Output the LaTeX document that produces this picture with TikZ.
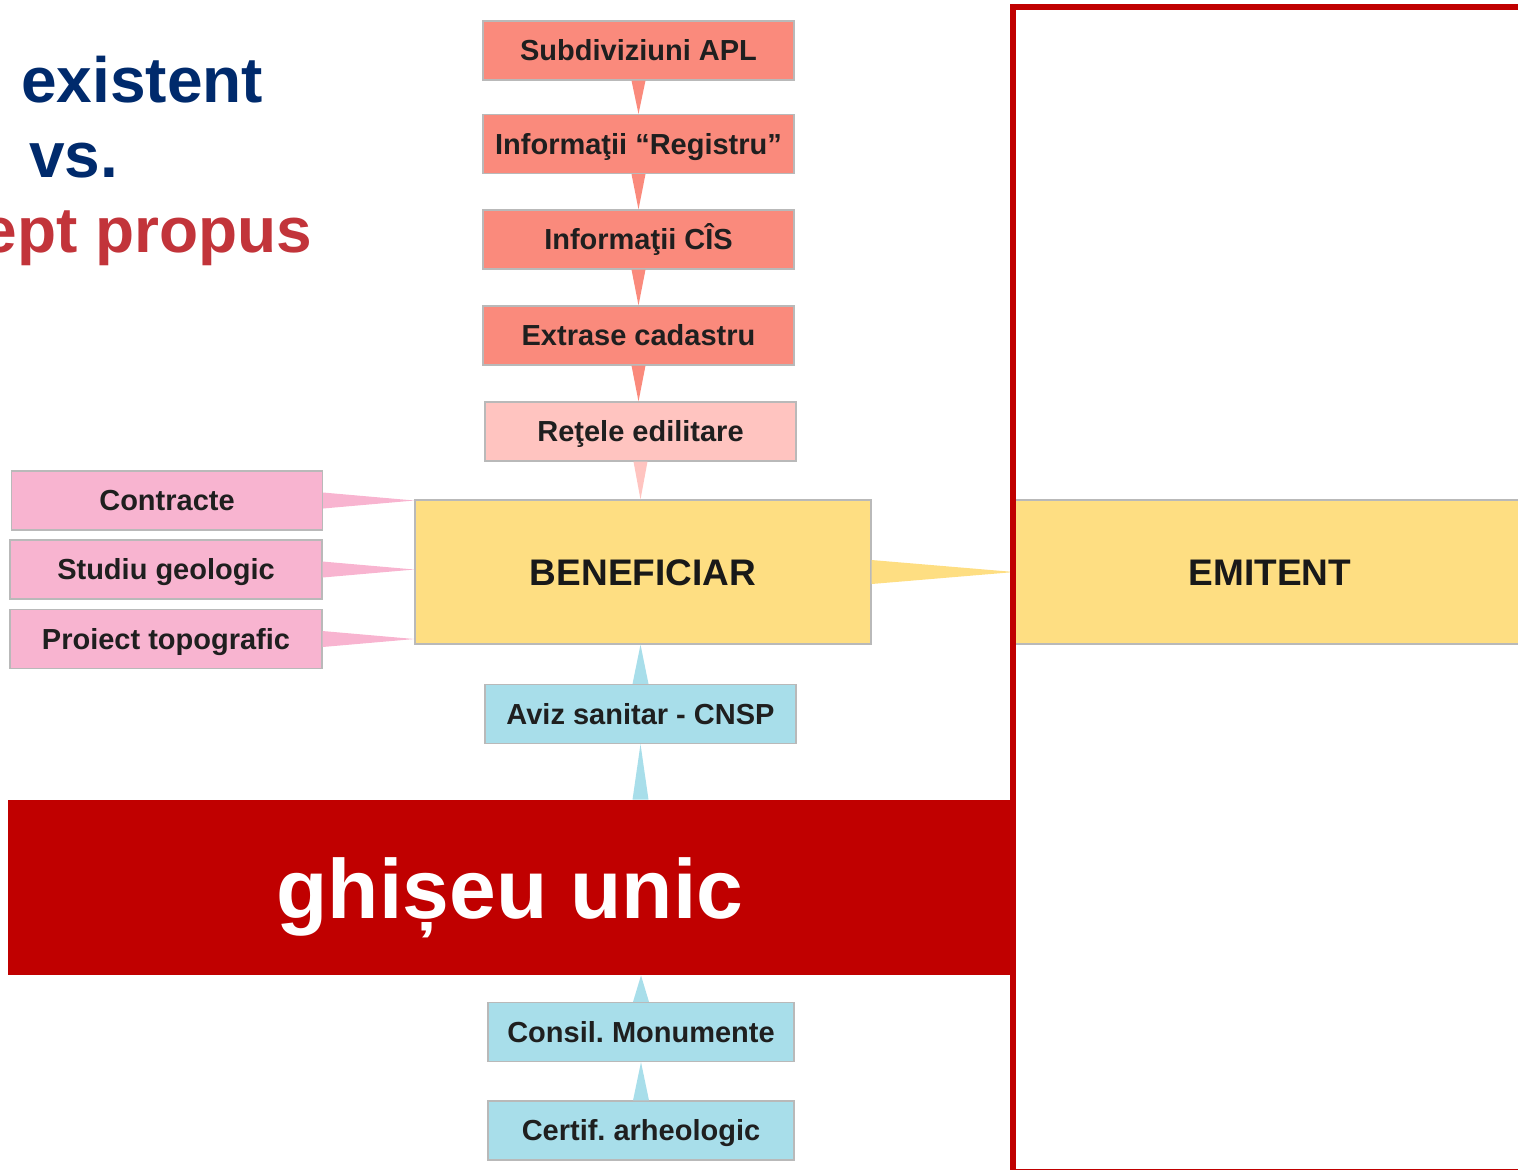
\documentclass[tikz,border=0pt]{standalone}
\usepackage{fontspec}
\setmainfont{Liberation Sans}
\usepackage{tikz}
\usetikzlibrary{calc}
\frenchspacing

\definecolor{somon}{RGB}{250,138,124}
\definecolor{rozdeschis}{RGB}{255,196,192}
\definecolor{roz}{RGB}{248,180,208}
\definecolor{galben}{RGB}{254,222,130}
\definecolor{bleu}{RGB}{168,222,234}
\definecolor{rosu}{RGB}{192,0,0}
\definecolor{albastrutitlu}{RGB}{0,42,108}
\definecolor{rosutitlu}{RGB}{194,52,58}
\definecolor{margine}{RGB}{185,185,185}

\tikzset{
  cutie/.style={draw=margine, line width=0.6pt, inner sep=0pt,
    minimum width=155.5pt, minimum height=29.5pt,
    text height=10.4pt, text depth=0pt, text=black!88,
    font=\bfseries\fontsize{14.5}{16}\selectfont},
  mare/.style={draw=margine, line width=0.6pt, fill=galben, inner sep=0pt,
    minimum height=72pt, text height=13.3pt, text depth=0pt, text=black!90,
    font=\bfseries\fontsize{18.5}{20}\selectfont},
  titlu/.style={inner sep=0pt, font=\bfseries\fontsize{32}{36}\selectfont},
  banda/.style={fill=rosu, inner sep=0pt, minimum width=502pt,
    minimum height=87.5pt, text=white, text height=30.6pt, text depth=0pt,
    font=\bfseries\fontsize{42}{46}\selectfont},
}

% con ascutit: baza pe primul nod, varful pe al doilea
\newcommand{\conv}[4]{\fill[#1] ($(#2)+(-#4,0)$) -- ($(#2)+(#4,0)$) -- (#2 |- #3) -- cycle;}
\newcommand{\conh}[4]{\fill[#1] ($(#2)+(0,-#4)$) -- ($(#2)+(0,#4)$) -- (#2 -| #3) -- cycle;}

\begin{document}
\begin{tikzpicture}[x=0.5pt, y=-0.5pt]
  \useasboundingbox (0,0) rectangle (1518,1169);

  % titlu
  \node[titlu, text=albastrutitlu, anchor=base west] (t1) at (21,102) {existent};
  \node[titlu, text=albastrutitlu, anchor=base west] (t2) at (29,177) {vs.};
  \node[titlu, text=rosutitlu, anchor=base east] (t3) at (313,252) {ept propus};

  % coloana de sus
  \node[cutie, fill=somon] (apl) at (638.5,50.5) {Subdiviziuni APL};
  \node[cutie, fill=somon] (reg) at (638.5,144) {Informaţii “Registru”};
  \node[cutie, fill=somon] (cis) at (638.5,239.5) {Informaţii CÎS};
  \node[cutie, fill=somon] (cad) at (638.5,335.5) {Extrase cadastru};
  \node[cutie, fill=rozdeschis] (ret) at (640.5,431.5) {Reţele edilitare};

  % centru
  \node[mare, minimum width=228pt] (ben) at (643,572) {BENEFICIAR};
  \node[mare, minimum width=255pt] (emi) at (1270,572) {EMITENT};

  % stanga
  \node[cutie, fill=roz] (con) at (167,500.5) {Contracte};
  \node[cutie, fill=roz, minimum width=156pt] (geo) at (166,569.5) {Studiu geologic};
  \node[cutie, fill=roz, minimum width=156pt] (topo) at (166,639) {Proiect topografic};

  % jos
  \node[cutie, fill=bleu] (aviz) at (640.5,714) {Aviz sanitar - CNSP};
  \node[banda] (ghi) at (510,887.5) {ghișeu unic};
  \node[cutie, fill=bleu, minimum width=153pt] (mon) at (641,1032) {Consil. Monumente};
  \node[cutie, fill=bleu, minimum width=153pt] (arh) at (641,1130.5) {Certif. arheologic};

  % conuri
  \conv{somon}{apl.south}{reg.north}{7}
  \conv{somon}{reg.south}{cis.north}{7}
  \conv{somon}{cis.south}{cad.north}{7}
  \conv{somon}{cad.south}{ret.north}{7}
  \conv{rozdeschis}{ret.south}{ben.north}{7}
  \conh{roz}{con.east}{ben.west}{8}
  \conh{roz}{geo.east}{ben.west}{8}
  \conh{roz}{topo.east}{ben.west}{8}
  \conh{galben}{ben.east}{emi.west}{12}
  \conv{bleu}{aviz.north}{ben.south}{8}
  \coordinate (ghisus) at (aviz.south |- ghi.north);
  \conv{bleu}{ghisus}{aviz.south}{8}
  \conv{bleu}{mon.north}{ghi.south}{8}
  \conv{bleu}{arh.north}{mon.south}{8}

  % cadru
  \draw[rosu, line width=3pt] (1012.5,6.5) rectangle (1540,1172);
\end{tikzpicture}
\end{document}
